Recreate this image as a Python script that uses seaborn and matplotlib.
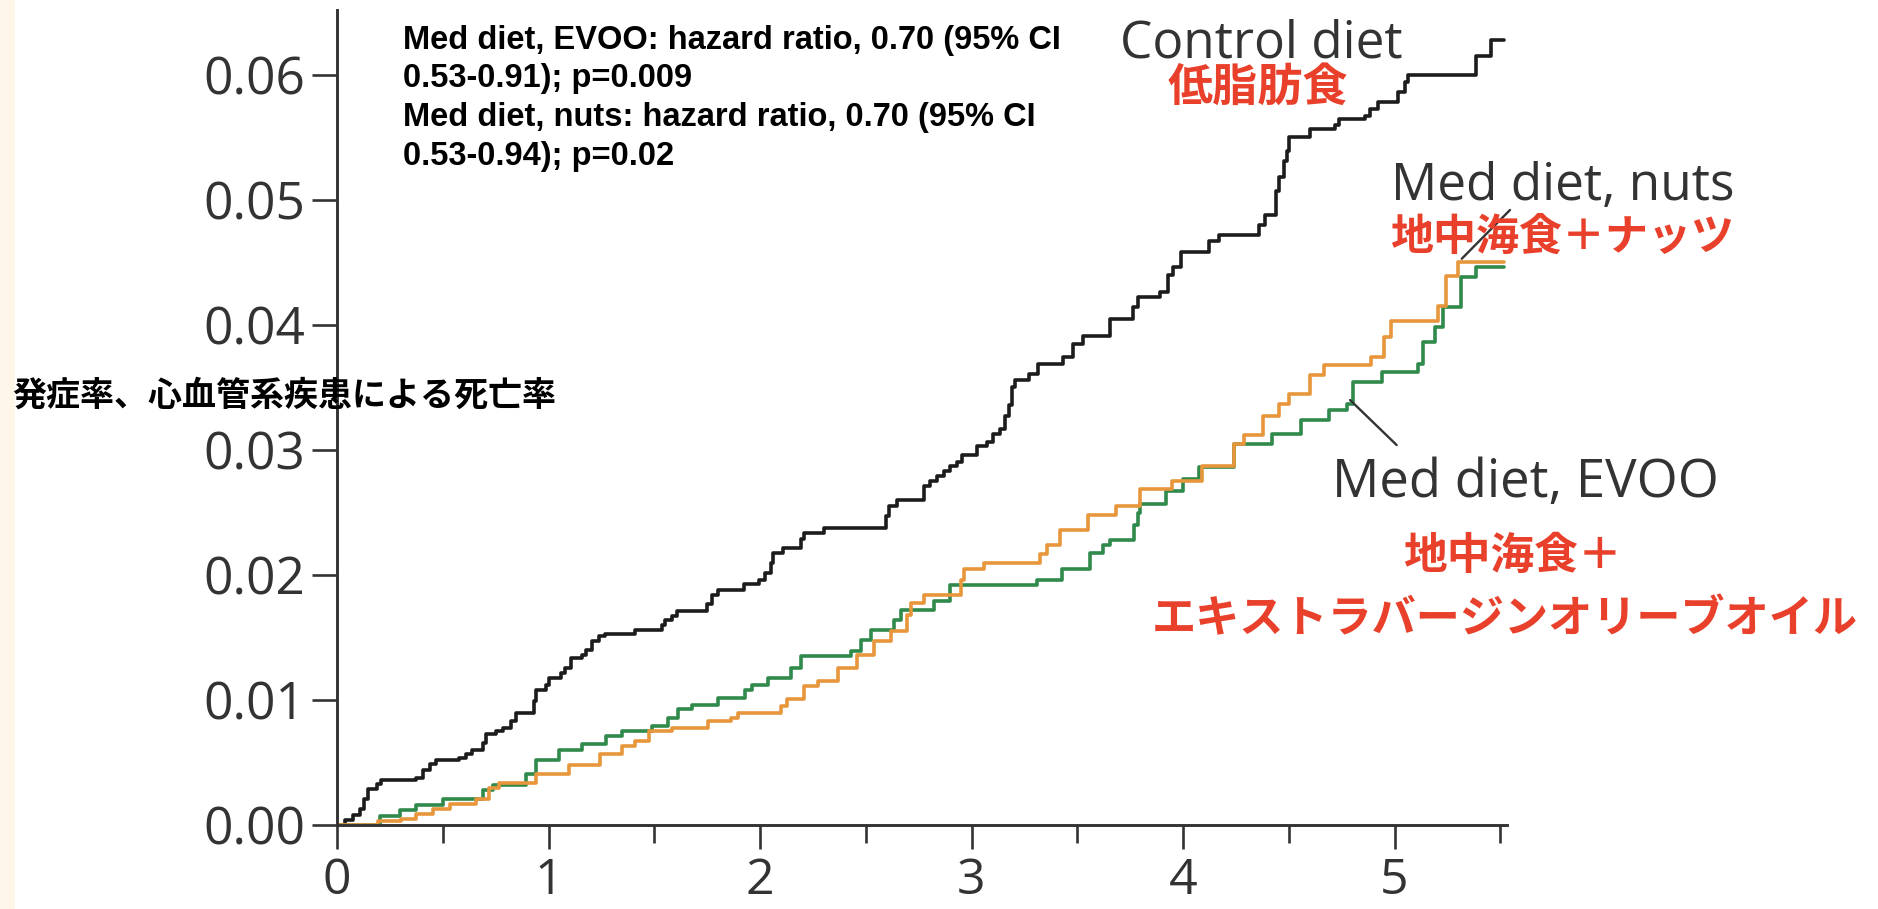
#!/usr/bin/env python3
"""
Cumulative incidence of cardiovascular death by diet group (step curves).
"""

import matplotlib

matplotlib.use("Agg")

import matplotlib.pyplot as plt
import pandas as pd
import seaborn as sns  # type: ignore
from matplotlib.patches import Rectangle
from matplotlib.ticker import FixedLocator, FormatStrFormatter

# step curves: years of follow-up, cumulative incidence
control_t = [0.0, 0.038, 0.077, 0.108, 0.13, 0.147, 0.187, 0.21, 0.375, 0.406,
             0.438, 0.469, 0.579, 0.61, 0.64, 0.689, 0.704, 0.751, 0.783, 0.822,
             0.846, 0.932, 0.94, 0.987, 1.002, 1.06, 1.08, 1.105, 1.16, 1.175,
             1.207, 1.238, 1.269, 1.41, 1.536, 1.55, 1.583, 1.606, 1.75, 1.775,
             1.80, 1.925, 1.995, 2.022, 2.053, 2.061, 2.108, 2.194, 2.21, 2.304,
             2.595, 2.61, 2.65, 2.775, 2.806, 2.838, 2.869, 2.90, 2.93, 2.955,
             3.026, 3.073, 3.104, 3.136, 3.16, 3.175, 3.19, 3.206, 3.27, 3.316,
             3.434, 3.48, 3.528, 3.653, 3.763, 3.787, 3.889, 3.928, 3.951, 3.99,
             4.124, 4.171, 4.36, 4.39, 4.438, 4.454, 4.478, 4.49, 4.50, 4.602,
             4.72, 4.736, 4.861, 4.885, 4.92, 5.017, 5.049, 5.065, 5.387, 5.458,
             5.52]
control_y = [0.0, 0.0004, 0.0008, 0.0013, 0.0021, 0.0029, 0.0033, 0.0036, 0.0038, 0.0044,
             0.0049, 0.0052, 0.0054, 0.0057, 0.0060, 0.0066, 0.0073, 0.0075, 0.0078, 0.0083,
             0.0090, 0.0099, 0.0108, 0.0112, 0.0118, 0.0122, 0.0126, 0.0134, 0.0136, 0.0140,
             0.0147, 0.0151, 0.0153, 0.0156, 0.0160, 0.0164, 0.0167, 0.0171, 0.0177, 0.0184,
             0.0188, 0.0193, 0.0196, 0.0202, 0.0210, 0.0218, 0.0222, 0.0229, 0.0234, 0.0238,
             0.0247, 0.0255, 0.0260, 0.0271, 0.0275, 0.0279, 0.0283, 0.0287, 0.0290, 0.0296,
             0.0303, 0.0306, 0.0313, 0.0317, 0.0327, 0.0336, 0.0350, 0.0356, 0.0361, 0.0369,
             0.0374, 0.0385, 0.0391, 0.0405, 0.0414, 0.0422, 0.0426, 0.0440, 0.0446, 0.0458,
             0.0467, 0.0472, 0.0480, 0.0488, 0.0507, 0.0518, 0.0531, 0.0539, 0.0550, 0.0557,
             0.0560, 0.0565, 0.0567, 0.0573, 0.0578, 0.0586, 0.0594, 0.0600, 0.0615, 0.0628,
             0.0628]

nuts_t = [0.0, 0.193, 0.304, 0.375, 0.453, 0.532, 0.657, 0.72, 0.767, 0.94,
          1.096, 1.245, 1.348, 1.41, 1.473, 1.583, 1.755, 1.865, 1.896, 2.10,
          2.13, 2.21, 2.273, 2.367, 2.46, 2.54, 2.62, 2.696, 2.712, 2.775,
          2.948, 2.963, 3.057, 3.324, 3.355, 3.418, 3.55, 3.685, 3.795, 3.95,
          4.09, 4.243, 4.29, 4.376, 4.454, 4.50, 4.602, 4.665, 4.89, 4.95,
          4.985, 5.207, 5.245, 5.30, 5.52]
nuts_y = [0.0, 0.0003, 0.0005, 0.0009, 0.0013, 0.0017, 0.0021, 0.0030, 0.0034, 0.0041,
          0.0048, 0.0057, 0.0063, 0.0067, 0.0075, 0.0078, 0.0083, 0.0086, 0.0090, 0.0095,
          0.0101, 0.0111, 0.0115, 0.0126, 0.0136, 0.0147, 0.0155, 0.0168, 0.0178, 0.0184,
          0.0196, 0.0205, 0.0210, 0.0217, 0.0224, 0.0236, 0.0248, 0.0255, 0.0269, 0.0275,
          0.0287, 0.0305, 0.0312, 0.0327, 0.0337, 0.0345, 0.0360, 0.0368, 0.0374, 0.0390,
          0.0403, 0.0415, 0.0439, 0.0450, 0.0450]

evoo_t = [0.0, 0.202, 0.296, 0.375, 0.50, 0.689, 0.736, 0.892, 0.94, 1.05,
          1.16, 1.27, 1.348, 1.488, 1.567, 1.614, 1.677, 1.802, 1.928, 1.96,
          2.038, 2.147, 2.194, 2.43, 2.476, 2.523, 2.634, 2.666, 2.822, 2.90,
          3.308, 3.426, 3.56, 3.623, 3.654, 3.77, 3.785, 3.795, 3.92, 4.00,
          4.077, 4.243, 4.42, 4.56, 4.69, 4.775, 4.806, 4.94, 5.11, 5.137,
          5.19, 5.23, 5.316, 5.387, 5.52]
evoo_y = [0.0, 0.0007, 0.0012, 0.0016, 0.0021, 0.0028, 0.0032, 0.0041, 0.0052, 0.0060,
          0.0065, 0.0071, 0.0075, 0.0079, 0.0086, 0.0093, 0.0096, 0.0102, 0.0108, 0.0112,
          0.0118, 0.0126, 0.0135, 0.0139, 0.0148, 0.0156, 0.0164, 0.0172, 0.0179, 0.0192,
          0.0196, 0.0205, 0.0218, 0.0224, 0.0228, 0.0240, 0.0250, 0.0257, 0.0267, 0.0277,
          0.0286, 0.0305, 0.0313, 0.0324, 0.0332, 0.0337, 0.0354, 0.0362, 0.0369, 0.0386,
          0.0398, 0.0414, 0.0438, 0.0446, 0.0446]

group_order = ["Control diet", "Med diet, EVOO", "Med diet, nuts"]
group_colors = {
    "Control diet": "#1c1c1c",
    "Med diet, EVOO": "#2f8a4c",
    "Med diet, nuts": "#e8963c",
}

y_ticks = [0.00, 0.01, 0.02, 0.03, 0.04, 0.05, 0.06]
x_ticks = [0, 1, 2, 3, 4, 5]
x_minor_ticks = [0.5, 1.5, 2.5, 3.5, 4.5, 5.5]

y_label = "発症率、心血管系疾患による死亡率"
stats_lines = [
    "Med diet, EVOO: hazard ratio, 0.70 (95% CI",
    "0.53-0.91); p=0.009",
    "Med diet, nuts: hazard ratio, 0.70 (95% CI",
    "0.53-0.94); p=0.02",
]

W, H = 1878, 909
RED = "#e8402a"
GREY = "#333333"
JP = ["Noto Sans CJK JP", "DejaVu Sans"]


def fx(px):
    return px / W


def fy(py):
    return 1 - py / H


def build_frame():
    rows = []
    for name, ts, ys in [
        ("Control diet", control_t, control_y),
        ("Med diet, EVOO", evoo_t, evoo_y),
        ("Med diet, nuts", nuts_t, nuts_y),
    ]:
        for t, y in zip(ts, ys):
            rows.append({"time": t, "rate": y, "group": name})
    return pd.DataFrame(rows)


def main():
    sns.set_style("white")
    plt.rcParams["font.family"] = ["Open Sans", "DejaVu Sans"]

    fig = plt.figure(figsize=(W / 100, H / 100), dpi=100)
    fig.patches.append(
        Rectangle((0, 0), fx(15), 1, transform=fig.transFigure,
                  facecolor="#fef6e9", edgecolor="none", zorder=0)
    )

    # axes placed so that 0 sits at (337, 825) px
    ax = fig.add_axes([fx(337), 84 / H, 5.53 * 211.5 / W, 815 / H])
    ax.set_facecolor("none")

    df = build_frame()
    sns.lineplot(
        data=df, x="time", y="rate", hue="group", hue_order=group_order,
        palette=group_colors, estimator=None, sort=False,
        drawstyle="steps-post", linewidth=2.6, legend=False, ax=ax,
    )

    ax.set_xlim(0, 5.53)
    ax.set_ylim(0, 0.0652)
    ax.set_xlabel("")
    ax.set_ylabel("")

    for side in ["top", "right"]:
        ax.spines[side].set_visible(False)
    for side in ["left", "bottom"]:
        ax.spines[side].set_linewidth(2.1)
        ax.spines[side].set_color(GREY)

    ax.yaxis.set_major_locator(FixedLocator(y_ticks))
    ax.yaxis.set_major_formatter(FormatStrFormatter("%.2f"))
    ax.xaxis.set_major_locator(FixedLocator(x_ticks))
    ax.xaxis.set_minor_locator(FixedLocator(x_minor_ticks))
    ax.tick_params(axis="y", which="major", direction="out", length=18, width=1.9,
                   color=GREY, labelsize=37, labelcolor=GREY, pad=5, left=True)
    ax.tick_params(axis="x", which="major", direction="out", length=17, width=1.9,
                   color=GREY, labelsize=36, labelcolor=GREY, pad=6, bottom=True)
    ax.tick_params(axis="x", which="minor", direction="out", length=13, width=1.9,
                   color=GREY, bottom=True)

    # leader lines from the curve labels
    ax.annotate("", xy=(5.318, 0.0453), xytext=(5.546, 0.0492),
                arrowprops=dict(arrowstyle="-", color=GREY, lw=1.7,
                                shrinkA=0, shrinkB=0), annotation_clip=False)
    ax.annotate("", xy=(4.79, 0.0340), xytext=(5.01, 0.0304),
                arrowprops=dict(arrowstyle="-", color=GREY, lw=1.7,
                                shrinkA=0, shrinkB=0), annotation_clip=False)

    # curve labels
    fig.text(fx(1120), fy(58), "Control diet", fontsize=37, color=GREY,
             ha="left", va="baseline")
    fig.text(fx(1168), fy(88), "低脂肪食", fontsize=32.5, color=RED,
             fontweight="bold", family=JP, ha="left", va="center")
    fig.text(fx(1391), fy(200), "Med diet, nuts", fontsize=37, color=GREY,
             ha="left", va="baseline")
    fig.text(fx(1390), fy(237), "地中海食＋ナッツ", fontsize=31, color=RED,
             fontweight="bold", family=JP, ha="left", va="center")
    fig.text(fx(1332), fy(497), "Med diet, EVOO", fontsize=38, color=GREY,
             ha="left", va="baseline")
    fig.text(fx(1403), fy(556), "地中海食＋", fontsize=31.5, color=RED,
             fontweight="bold", family=JP, ha="left", va="center")
    fig.text(fx(1152), fy(619), "エキストラバージンオリーブオイル", fontsize=31.8,
             color=RED, fontweight="bold", family=JP, ha="left", va="center")

    # hazard ratio block
    for i, line in enumerate(stats_lines):
        fig.text(fx(403), fy(40 + i * 38.7), line, fontsize=23.5,
                 fontweight="bold", family=["Liberation Sans", "DejaVu Sans"],
                 color="black", ha="left", va="center")

    fig.text(fx(12), fy(395), y_label, fontsize=24.5, fontweight="bold",
             family=JP, color="black", ha="left", va="center")

    fig.savefig("out.png", dpi=100)


if __name__ == "__main__":
    main()
